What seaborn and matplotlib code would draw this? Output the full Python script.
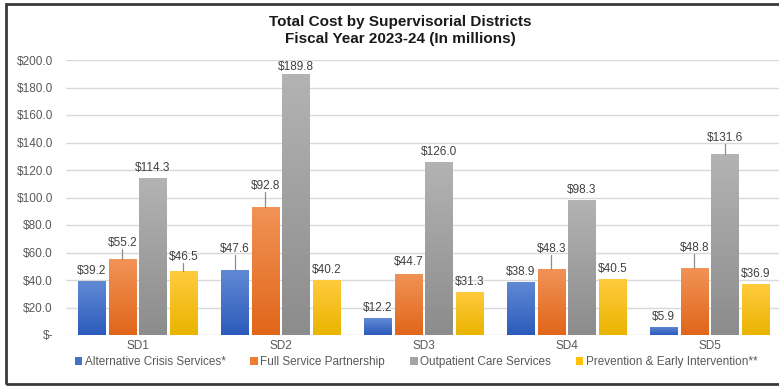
import numpy as np
import pandas as pd
import matplotlib
matplotlib.use("Agg")
import matplotlib.pyplot as plt
import matplotlib.transforms as mtransforms
from matplotlib.patches import Rectangle, Patch
from matplotlib.colors import LinearSegmentedColormap
import seaborn as sns

# ---- data (millions of dollars) ----
districts = ["SD1", "SD2", "SD3", "SD4", "SD5"]
services = [
    "Alternative Crisis Services*",
    "Full Service Partnership",
    "Outpatient Care Services",
    "Prevention & Early Intervention**",
]
alt_crisis = [39.2, 47.6, 12.2, 38.9, 5.9]
full_service = [55.2, 92.8, 44.7, 48.3, 48.8]
outpatient = [114.3, 189.8, 126.0, 98.3, 131.6]
prevention = [46.5, 40.2, 31.3, 40.5, 36.9]
y_ticks = [0, 20, 40, 60, 80, 100, 120, 140, 160, 180, 200]

# ---- styling ----
base_colors = ["#4472C4", "#ED7D31", "#A5A5A5", "#FFC000"]
grad_top = ["#6189d4", "#f19356", "#b3b3b3", "#ffcb3e"]
grad_bottom = ["#2c5bbb", "#e1661a", "#8c8c8c", "#eab400"]
text_grey = "#595959"
# extra lift (px) for labels that sit on a leader line
label_lift = {(0, 1): 16, (0, 3): 14, (1, 0): 21, (1, 1): 21, (1, 2): 7,
              (2, 1): 12, (3, 1): 20, (4, 1): 20, (4, 2): 16}

series_values = [alt_crisis, full_service, outpatient, prevention]
df = pd.DataFrame({
    "District": districts * len(services),
    "Service": np.repeat(services, len(districts)),
    "Cost": np.concatenate(series_values),
})

sns.set_theme(style="white")
plt.rcParams["font.family"] = ["Liberation Sans", "DejaVu Sans"]

W, H = 779, 387
fig = plt.figure(figsize=(W / 100, H / 100), dpi=100)
fig.patch.set_facecolor("white")
ax = fig.add_axes([66 / W, (H - 335) / H, 715 / W, 275 / H])

sns.barplot(data=df, x="District", y="Cost", hue="Service", order=districts,
            hue_order=services, palette=base_colors, width=0.853, gap=0.11,
            legend=False, ax=ax, saturation=1, edgecolor="none", zorder=3)

ax.set_xlim(-0.5, len(districts) - 0.5)
ax.set_ylim(0, 200)
ax.set_yticks(y_ticks)
ax.set_yticklabels(["$-" if v == 0 else f"${v:.1f}" for v in y_ticks])
ax.yaxis.grid(True, color="#d9d9d9", lw=1.0, zorder=0)
ax.set_axisbelow(True)
for s in ax.spines.values():
    s.set_visible(False)
ax.tick_params(axis="y", length=0, pad=9.4, labelsize=8.5, labelcolor=text_grey)
ax.tick_params(axis="x", length=0, pad=3.5, labelsize=8.5, labelcolor=text_grey)
ax.set_xlabel("")
ax.set_ylabel("")

# gradient fills, shadows and value labels
shadow_tf = ax.transData + mtransforms.ScaledTranslation(0.01, -2.2 / 100, fig.dpi_scale_trans)
patches = [p for p in ax.patches if isinstance(p, Rectangle)]
for si in range(len(services)):
    cmap = LinearSegmentedColormap.from_list(f"g{si}", [grad_bottom[si], grad_top[si]])
    for di in range(len(districts)):
        p = patches[si * len(districts) + di]
        x0, w, h = p.get_x(), p.get_width(), p.get_height()
        grad = np.linspace(0, 1, 64).reshape(-1, 1)
        im = ax.imshow(grad, extent=[x0, x0 + w, 0, h], origin="lower",
                       cmap=cmap, aspect="auto", zorder=3.1, interpolation="bilinear")
        im.set_clip_path(p)
        ax.plot([x0 + 0.01, x0 + w - 0.005], [0, 0], color="#4a4a4a", lw=2.0,
                alpha=0.75, transform=shadow_tf, solid_capstyle="butt", zorder=2.5)

        val = series_values[si][di]
        cx = x0 + w / 2
        lift = label_lift.get((di, si), 10)
        lab_tf = ax.transData + mtransforms.ScaledTranslation(0, lift / 100, fig.dpi_scale_trans)
        ax.text(cx, val, f"${val:.1f}", transform=lab_tf, ha="center", va="center",
                fontsize=8.5, color="#404040", zorder=5)
        if lift > 13:
            y_top_px = ax.transData.transform((cx, val))[1]
            y_end = ax.transData.inverted().transform((0, y_top_px + lift - 6))[1]
            ax.plot([cx, cx], [val, y_end], color="#8c8c8c", lw=0.9, zorder=4)

ax.set_xlim(-0.5, len(districts) - 0.5)
ax.set_ylim(0, 200)

fig.text(400 / W, 1 - 30.5 / H, "Total Cost by Supervisorial Districts\nFiscal Year 2023-24 (In millions)",
         ha="center", va="center", fontsize=11, fontweight="bold", color="#1a1a1a",
         linespacing=1.2)

handles = [Patch(facecolor=c, edgecolor="none") for c in base_colors]
fig.legend(handles, services, loc="center", bbox_to_anchor=(416 / W, (H - 362) / H),
           ncol=4, frameon=False, fontsize=8.5, labelcolor=text_grey,
           handlelength=0.65, handleheight=0.65, handletextpad=0.2, columnspacing=2.1)

fig.add_artist(Rectangle((6 / W, 3 / H), 1.2, (384 - 4) / H, transform=fig.transFigure,
                         fill=False, ec="#3a3a3a", lw=2))

fig.savefig("out.png", dpi=100)
